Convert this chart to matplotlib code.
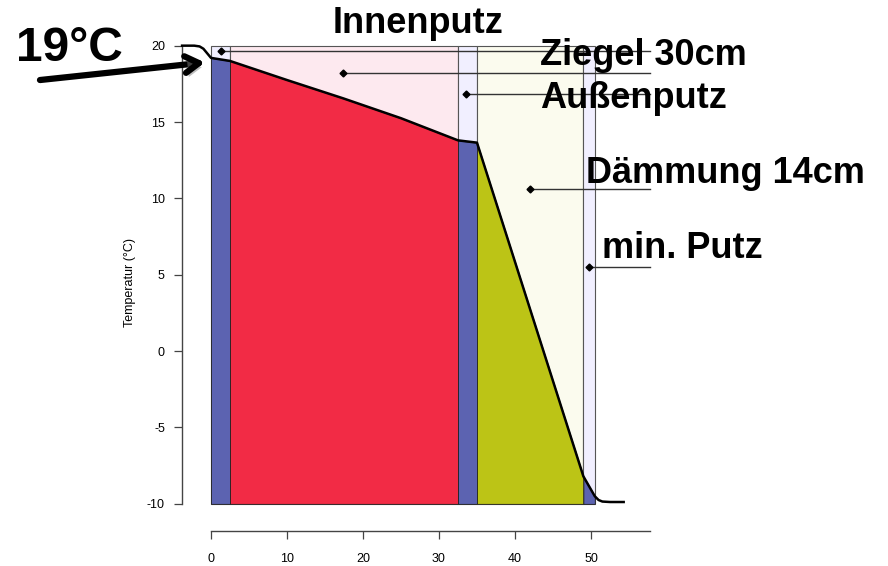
# Temperaturverlauf durch eine gedaemmte Ziegelwand
import numpy as np
import matplotlib
matplotlib.use("Agg")
from matplotlib import pyplot as plt
import matplotlib.patheffects as pe

plt.rcParams['font.family'] = ['Liberation Sans', 'DejaVu Sans']
plt.rcParams['axes.unicode_minus'] = False

# Schichten (cm)
layer_names = ["Innenputz", "Ziegel 30cm", "Außenputz", "Dämmung 14cm", "min. Putz"]
layer_edges = [0, 2.5, 32.5, 35, 49, 50.5]
light_colors = ["#f1efff", "#fde9ef", "#f1efff", "#fbfbee", "#f1efff"]
dark_colors = ["#5c63b1", "#f22b45", "#5c63b1", "#bcc416", "#5c63b1"]

# Temperaturprofil
depth = [-3.8, -2.2, -1.5, -1.0, -0.5, 0.0, 2.5, 10, 17.4, 25, 32.5, 35,
         49, 50.5, 51.0, 51.5, 52.5, 54.3]
temp = [20.0, 20.0, 19.95, 19.8, 19.5, 19.2, 19.0, 17.75, 16.55, 15.25, 13.8, 13.65,
        -8.2, -9.5, -9.75, -9.85, -9.88, -9.88]

# Beschriftungspunkte
marker_x = [1.27, 17.4, 33.6, 42.0, 49.8]
marker_y = [19.65, 18.2, 16.85, 10.6, 5.5]
leader_end = 57.8

x_ticks = [0, 10, 20, 30, 40, 50]
y_ticks = [-10, -5, 0, 5, 10, 15, 20]

fig = plt.figure(figsize=(8.88, 5.66), dpi=100)
ax = fig.add_axes([0, 0, 1, 1])
ax.set_xlim(-27.76, 89.08)
ax.set_ylim(-14.07, 22.99)

# helle Schichtflaechen
widths = np.diff(layer_edges)
ax.bar(layer_edges[:-1], 30, width=widths, bottom=-10, align='edge',
       color=light_colors, edgecolor='#555555', linewidth=0.8, zorder=1)

# dunkle Flaechen unter der Temperaturkurve
d = np.array(depth)
t = np.array(temp)
for i in range(len(widths)):
    a, b = layer_edges[i], layer_edges[i + 1]
    m = (d >= a) & (d <= b)
    ax.fill_between(d[m], -10, t[m], color=dark_colors[i],
                    edgecolor='#222222', linewidth=0.6, zorder=2)

ax.plot(depth, temp, color='black', lw=1.8, zorder=4)

# Hinweislinien
for mx, my in zip(marker_x, marker_y):
    ax.plot([mx, leader_end], [my, my], color='#333333', lw=1, zorder=5)
ax.plot(marker_x, marker_y, 'D', color='black', ms=3.5, zorder=6)

# Texte
ax.text(27.2, 20.8, layer_names[0], ha='center', va='baseline',
        fontsize=26, fontweight='bold')
ax.text(43.3, 18.74, layer_names[1], ha='left', va='baseline',
        fontsize=26, fontweight='bold', zorder=7)
ax.text(43.3, 15.92, layer_names[2], ha='left', va='baseline',
        fontsize=26, fontweight='bold', zorder=7)
ax.text(49.4, 11.0, layer_names[3], ha='left', va='baseline',
        fontsize=26, fontweight='bold', zorder=7)
ax.text(51.4, 6.09, layer_names[4], ha='left', va='baseline',
        fontsize=26, fontweight='bold', zorder=7)
ax.text(-25.66, 19.0, "19°C", ha='left', va='baseline',
        fontsize=34.5, fontweight='bold')
ax.text(-10.66, 4.52, "Temperatur (°C)", rotation=90, ha='center', va='center',
        fontsize=9)

ax.annotate("", xy=(-0.79, 18.9), xytext=(-22.5, 17.75),
            arrowprops=dict(arrowstyle='->,head_length=1.0,head_width=0.6',
                            lw=4.5, color='black', shrinkA=0, shrinkB=0,
                            path_effects=[pe.withSimplePatchShadow(
                                offset=(2, -3), shadow_rgbFace='gray', alpha=0.5)]))

# Achsen im R-Stil
for s in ['top', 'right']:
    ax.spines[s].set_visible(False)
ax.spines['left'].set_position(('data', -3.78))
ax.spines['left'].set_bounds(-10, 20)
ax.spines['bottom'].set_position(('data', -11.78))
ax.spines['bottom'].set_bounds(0, leader_end)
for s in ['left', 'bottom']:
    ax.spines[s].set_color('#444444')
    ax.spines[s].set_linewidth(1)
ax.set_xticks(x_ticks)
ax.set_yticks(y_ticks)
ax.tick_params(direction='out', length=5.5, width=0.9, color='#444444', labelsize=9)
ax.tick_params(axis='x', pad=10)
ax.tick_params(axis='y', pad=7)
ax.patch.set_visible(False)

plt.savefig("out.png", dpi=100)
